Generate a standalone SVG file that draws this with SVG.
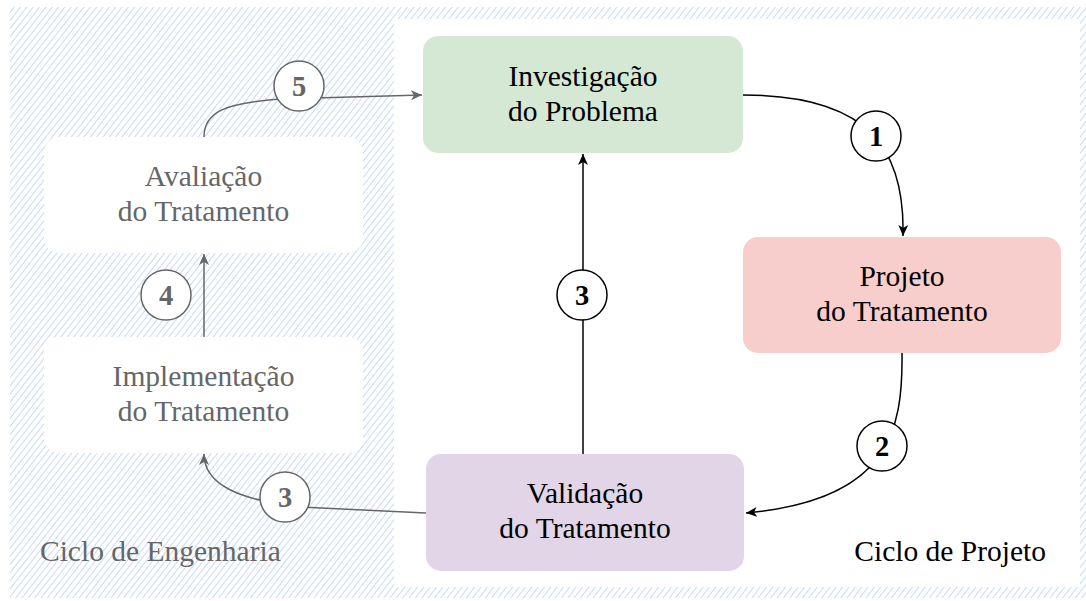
<svg xmlns="http://www.w3.org/2000/svg" width="1086" height="601" viewBox="0 0 1086 601">
<style>
.lbl{font-family:'Liberation Serif','DejaVu Serif',serif;font-size:29.5px;text-anchor:middle}
.num{font-family:'Liberation Serif','DejaVu Serif',serif;font-size:28.5px;font-weight:bold;text-anchor:middle}
.ghost{fill:#ffffff;stroke:none}
.gtext{fill:#666666}
.btext{fill:#000000}
.cg{fill:#ffffff;stroke:#666666;stroke-width:1.5}
.cb{fill:#ffffff;stroke:#000000;stroke-width:1.5}
.eg{fill:none;stroke:#666666;stroke-width:1.5}
.eb{fill:none;stroke:#000000;stroke-width:1.5}
</style>
<defs>
<pattern id="hatch" patternUnits="userSpaceOnUse" width="5" height="5" patternTransform="rotate(38)">
<line x1="0" y1="0" x2="0" y2="5" stroke="#b9d1f4" stroke-width="1.6"/>
</pattern>
<marker id="ag" markerUnits="userSpaceOnUse" viewBox="0 0 12 12" markerWidth="12" markerHeight="12" refX="11" refY="6" orient="auto">
<path d="M0,1 L11,6 L0,11 L3,6 Z" fill="#666666"/>
</marker>
<marker id="ab" markerUnits="userSpaceOnUse" viewBox="0 0 12 12" markerWidth="12" markerHeight="12" refX="11" refY="6" orient="auto">
<path d="M0,1 L11,6 L0,11 L3,6 Z" fill="#000000"/>
</marker>
</defs>
<rect width="1086" height="601" fill="#ffffff"/>
<g id="ciclo-engenharia">
<rect x="10" y="7" width="1076" height="591" fill="url(#hatch)"/>
<text class="lbl gtext" x="40" y="561" style="text-anchor:start">Ciclo de Engenharia</text>
</g>
<g id="ciclo-projeto">
<rect x="394" y="19" width="686" height="568" fill="#ffffff"/>
<text class="lbl btext" x="1046" y="561" style="text-anchor:end">Ciclo de Projeto</text>
</g>
<g id="connectors">
<path class="eg" d="M204,137 C204,112 225,103 280,99 L422,95" marker-end="url(#ag)"/>
<path class="eg" d="M204,337 L204,254" marker-end="url(#ag)"/>
<path class="eg" d="M426,513 L300,507 C240,500 204,485 204,454" marker-end="url(#ag)"/>
<path class="eb" d="M583,454 L583,154" marker-end="url(#ab)"/>
<path class="eb" d="M743,95 C870,95 905,150 903,236" marker-end="url(#ab)"/>
<path class="eb" d="M902,353 C903,430 890,500 746,513" marker-end="url(#ab)"/>
<g id="badge-5"><circle class="cg" cx="299" cy="86" r="25"/><text class="num gtext" x="299" y="96">5</text></g>
<g id="badge-4"><circle class="cg" cx="166" cy="295" r="25"/><text class="num gtext" x="166" y="305">4</text></g>
<g id="badge-3a"><circle class="cg" cx="285" cy="497" r="25"/><text class="num gtext" x="285" y="507">3</text></g>
<g id="badge-3b"><circle class="cb" cx="582" cy="295" r="25"/><text class="num btext" x="582" y="305">3</text></g>
<g id="badge-1"><circle class="cb" cx="876" cy="136" r="25"/><text class="num btext" x="876" y="146">1</text></g>
<g id="badge-2"><circle class="cb" cx="882" cy="446" r="25"/><text class="num btext" x="882" y="456">2</text></g>
</g>
<g id="node-investigacao">
<rect x="423" y="36" width="320" height="117" rx="15" fill="#d5e8d4"/>
<text class="lbl btext" x="583" y="86">Investigação</text>
<text class="lbl btext" x="583" y="121">do Problema</text>
</g>
<g id="node-projeto">
<rect x="743" y="237" width="318" height="116" rx="15" fill="#f8cecc"/>
<text class="lbl btext" x="902" y="286">Projeto</text>
<text class="lbl btext" x="902" y="321">do Tratamento</text>
</g>
<g id="node-validacao">
<rect x="426" y="454" width="318" height="117" rx="15" fill="#e1d5e7"/>
<text class="lbl btext" x="585" y="503">Validação</text>
<text class="lbl btext" x="585" y="538">do Tratamento</text>
</g>
<g id="node-avaliacao">
<rect class="ghost" x="44" y="137" width="319" height="116" rx="15"/>
<text class="lbl gtext" x="203.5" y="186">Avaliação</text>
<text class="lbl gtext" x="203.5" y="221">do Tratamento</text>
</g>
<g id="node-implementacao">
<rect class="ghost" x="44" y="337" width="319" height="116" rx="15"/>
<text class="lbl gtext" x="203.5" y="386">Implementação</text>
<text class="lbl gtext" x="203.5" y="421">do Tratamento</text>
</g>
</svg>
